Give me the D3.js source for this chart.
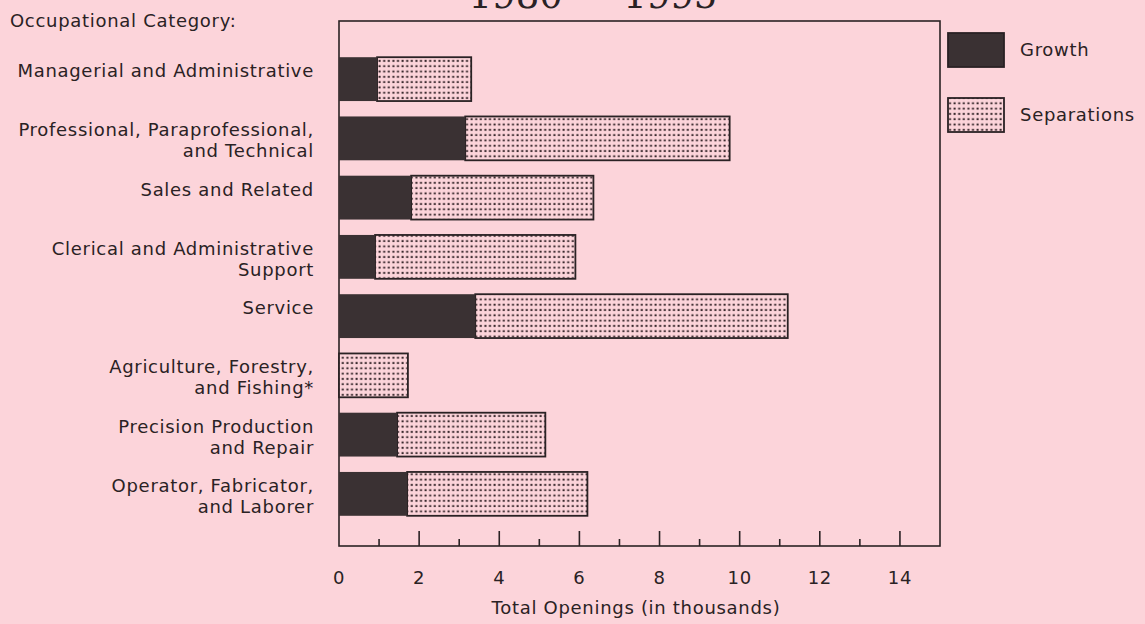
<!DOCTYPE html>
<html>
<head>
<meta charset="utf-8">
<script src="https://cdn.jsdelivr.net/npm/d3@7"></script>
<style>
  body { margin: 0; background: #fcd4da; }
  svg { display: block; }
  text { font-family: "DejaVu Sans", sans-serif; fill: #2a2224; letter-spacing: 0.7px; }
</style>
</head>
<body>
<script>
const categories = [
  ['Managerial and Administrative'],
  ['Professional, Paraprofessional,', 'and Technical'],
  ['Sales and Related'],
  ['Clerical and Administrative', 'Support'],
  ['Service'],
  ['Agriculture, Forestry,', 'and Fishing*'],
  ['Precision Production', 'and Repair'],
  ['Operator, Fabricator,', 'and Laborer']
];
const growth      = [0.95, 3.15, 1.8, 0.9, 3.4, 0, 1.45, 1.7];
const separations = [2.35, 6.6, 4.55, 5.0, 7.8, 1.72, 3.7, 4.5];
const majorTicks = [0, 2, 4, 6, 8, 10, 12, 14];
const minorTicks = [1, 3, 5, 7, 9, 11, 13];

const W = 1145, H = 624;
const plotL = 339, plotR = 940, plotT = 21, plotB = 546;

const svg = d3.select('body').append('svg')
  .attr('width', W)
  .attr('height', H);

const defs = svg.append('defs');
const pat = defs.append('pattern')
  .attr('id', 'dots')
  .attr('patternUnits', 'userSpaceOnUse')
  .attr('width', 4.6)
  .attr('height', 5.3);
pat.append('rect').attr('width', 4.6).attr('height', 5.3).attr('fill', '#fcd4da');
pat.append('rect').attr('x', 1.4).attr('y', 1.6).attr('width', 2).attr('height', 2).attr('fill', '#3a2a2e');

const x = d3.scaleLinear().domain([0, 15]).range([plotL, plotR]);
const y = d3.scaleBand()
  .domain(d3.range(categories.length))
  .range([49.5, 523.5])
  .paddingInner(0.26)
  .paddingOuter(0.13);

// title, cut off at the top edge like the scan
svg.append('text')
  .attr('x', 593).attr('y', 8)
  .attr('text-anchor', 'middle')
  .style('font-family', '"DejaVu Serif", "Liberation Serif", serif')
  .style('font-size', '37px')
  .style('letter-spacing', '0px')
  .text('1980 \u2014 1995');

svg.append('text')
  .attr('x', 10).attr('y', 27)
  .style('font-size', '18px')
  .text('Occupational Category:');

// frame
svg.append('rect')
  .attr('x', plotL).attr('y', plotT)
  .attr('width', plotR - plotL).attr('height', plotB - plotT)
  .attr('fill', 'none')
  .attr('stroke', '#2a2224')
  .attr('stroke-width', 1.6);

// ticks point up into the plot
const axis = svg.append('g');
axis.selectAll('.major').data(majorTicks.filter(d => d > 0)).enter()
  .append('line')
  .attr('x1', d => x(d)).attr('x2', d => x(d))
  .attr('y1', plotB).attr('y2', plotB - 15)
  .attr('stroke', '#2a2224').attr('stroke-width', 1.6);
axis.selectAll('.minor').data(minorTicks).enter()
  .append('line')
  .attr('x1', d => x(d)).attr('x2', d => x(d))
  .attr('y1', plotB).attr('y2', plotB - 7)
  .attr('stroke', '#2a2224').attr('stroke-width', 1.6);
axis.selectAll('.lab').data(majorTicks).enter()
  .append('text')
  .attr('x', d => x(d)).attr('y', plotB + 38)
  .attr('text-anchor', 'middle')
  .style('font-size', '18px')
  .text(d => d);

svg.append('text')
  .attr('x', 636).attr('y', plotB + 68)
  .attr('text-anchor', 'middle')
  .style('font-size', '18px')
  .text('Total Openings (in thousands)');

// bars
const bars = svg.append('g');
bars.selectAll('.sep').data(separations).enter()
  .append('rect')
  .attr('x', (d, i) => x(growth[i]))
  .attr('y', (d, i) => y(i))
  .attr('width', (d, i) => x(growth[i] + d) - x(growth[i]))
  .attr('height', y.bandwidth())
  .attr('fill', 'url(#dots)')
  .attr('stroke', '#2a2224')
  .attr('stroke-width', 1.8);
bars.selectAll('.gr').data(growth).enter()
  .append('rect')
  .attr('x', x(0))
  .attr('y', (d, i) => y(i))
  .attr('width', d => x(d) - x(0))
  .attr('height', y.bandwidth())
  .attr('fill', '#3a3133');

// category labels
const labs = svg.append('g');
categories.forEach((lines, i) => {
  const cy = y(i) + y.bandwidth() / 2;
  lines.forEach((t, j) => {
    labs.append('text')
      .attr('x', 314)
      .attr('y', cy - 2 + j * 21)
      .attr('text-anchor', 'end')
      .style('font-size', '18px')
      .text(t);
  });
});

// legend
const legend = [
  { name: 'Growth', fill: '#3a3133', y: 33 },
  { name: 'Separations', fill: 'url(#dots)', y: 98 }
];
const lg = svg.append('g');
legend.forEach(d => {
  lg.append('rect')
    .attr('x', 948).attr('y', d.y)
    .attr('width', 56).attr('height', 34)
    .attr('fill', d.fill)
    .attr('stroke', '#2a2224')
    .attr('stroke-width', 1.8);
  lg.append('text')
    .attr('x', 1020).attr('y', d.y + 23)
    .style('font-size', '18px')
    .text(d.name);
});
</script>
</body>
</html>
